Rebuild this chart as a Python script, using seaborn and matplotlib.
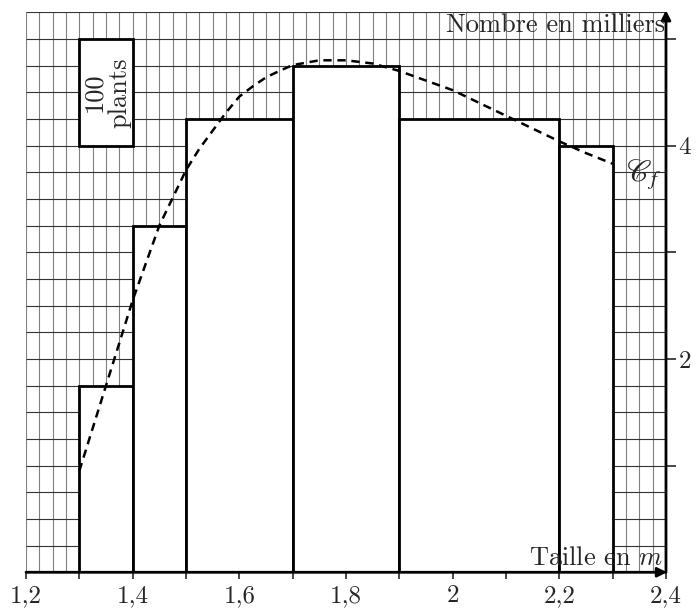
import numpy as np
import pandas as pd
import matplotlib
matplotlib.use('Agg')
import matplotlib.pyplot as plt
from matplotlib.patches import Rectangle
import seaborn as sns

# class edges (m) and heights (thousands of plants)
edges = [1.3, 1.4, 1.5, 1.7, 1.9, 2.2, 2.3]
heights = [1.75, 3.25, 4.25, 4.75, 4.25, 4.0]

# dashed curve C_f
curve_x = [1.30, 1.35, 1.40, 1.45, 1.50, 1.525, 1.55, 1.575, 1.60, 1.625,
           1.65, 1.675, 1.70, 1.75, 1.80, 1.85, 1.90, 1.95, 2.00, 2.05,
           2.10, 2.15, 2.20, 2.25, 2.30]
curve_y = [0.95, 1.75, 2.55, 3.25, 3.77, 3.97, 4.14, 4.31, 4.46, 4.555,
           4.64, 4.70, 4.755, 4.80, 4.80, 4.77, 4.70, 4.61, 4.52, 4.40,
           4.28, 4.16, 4.04, 3.93, 3.83]

xticks = [1.2, 1.3, 1.4, 1.5, 1.6, 1.7, 1.8, 1.9, 2.0, 2.1, 2.2, 2.3, 2.4]
xlabels = ['1,2', '', '1,4', '', '1,6', '', '1,8', '', '2', '', '2,2', '', '2,4']
yticks = [1, 2, 3, 4, 5]
ylabels = ['', '2', '', '4', '']

XMIN, XMAX, YMAX = 1.2, 2.4, 5.25

sns.set_style('white')
plt.rcParams['font.family'] = ['cmr10', 'DejaVu Serif']
plt.rcParams['mathtext.fontset'] = 'cm'

fig = plt.figure(figsize=(6.97, 6.09), dpi=100)
ax = fig.add_axes([0.0373, 0.0603, 0.9182, 0.9195])

# background grid (millimetre-paper look)
for gx in np.arange(XMIN, XMAX + 1e-9, 0.025):
    ax.vlines(gx, 0, YMAX, color='0.5', lw=0.8, zorder=0)
for gy in np.arange(0, YMAX + 1e-9, 0.25):
    ax.hlines(gy, XMIN, XMAX, color='0.2', lw=0.8, zorder=0)

# histogram
mids = [(a + b) / 2 for a, b in zip(edges[:-1], edges[1:])]
df = pd.DataFrame({'taille': mids, 'nombre': heights})
sns.histplot(data=df, x='taille', weights='nombre', bins=edges, stat='count',
             color='white', alpha=1, edgecolor='black', linewidth=2, ax=ax)
for p in ax.patches:
    p.set_facecolor('white')
    p.set_zorder(2)

# curve
sns.lineplot(x=curve_x, y=curve_y, estimator=None, color='black', lw=1.8,
             linestyle=(0, (3.3, 2.3)), ax=ax, zorder=4)

# unit box: 100 plants
ax.add_patch(Rectangle((1.3, 4.0), 0.1, 1.0, facecolor='white',
                       edgecolor='black', lw=2, zorder=3))
ax.text(1.352, 4.5, '100\nplants', rotation=90, ha='center', va='center',
        multialignment='center', fontsize=19, linespacing=1.05, zorder=5)

# axes with arrows
ax.annotate('', xy=(XMAX + 0.002, 0), xytext=(XMIN, 0),
            arrowprops=dict(arrowstyle='-|>', lw=2, color='black',
                            mutation_scale=14, shrinkA=0, shrinkB=0),
            annotation_clip=False, zorder=6)
ax.annotate('', xy=(XMAX, YMAX + 0.02), xytext=(XMAX, 0),
            arrowprops=dict(arrowstyle='-|>', lw=2, color='black',
                            mutation_scale=14, shrinkA=0, shrinkB=0),
            annotation_clip=False, zorder=6)

ax.text(2.398, 5.02, 'Nombre en milliers', ha='right', va='bottom',
        fontsize=19, zorder=7)
ax.text(2.395, 0.02, r'Taille en $m$', ha='right', va='bottom',
        fontsize=19, zorder=7)
ax.text(2.392, 3.72, r'$\mathscr{C}_f$', ha='right', va='center',
        fontsize=22, math_fontfamily='stix', zorder=7)

ax.set_xlim(XMIN, XMAX)
ax.set_ylim(0, YMAX)
ax.set_xticks(xticks)
ax.set_xticklabels(xlabels, fontsize=18)
ax.yaxis.tick_right()
ax.set_yticks(yticks)
ax.set_yticklabels(ylabels, fontsize=18)
ax.tick_params(axis='x', direction='out', length=5, width=1.2, pad=4,
               bottom=True)
ax.tick_params(axis='y', direction='out', length=7, width=1.2, pad=2,
               right=True, left=False)
ax.set_xlabel('')
ax.set_ylabel('')
for s in ax.spines.values():
    s.set_visible(False)

plt.savefig('out.png', dpi=100)
plt.close()
